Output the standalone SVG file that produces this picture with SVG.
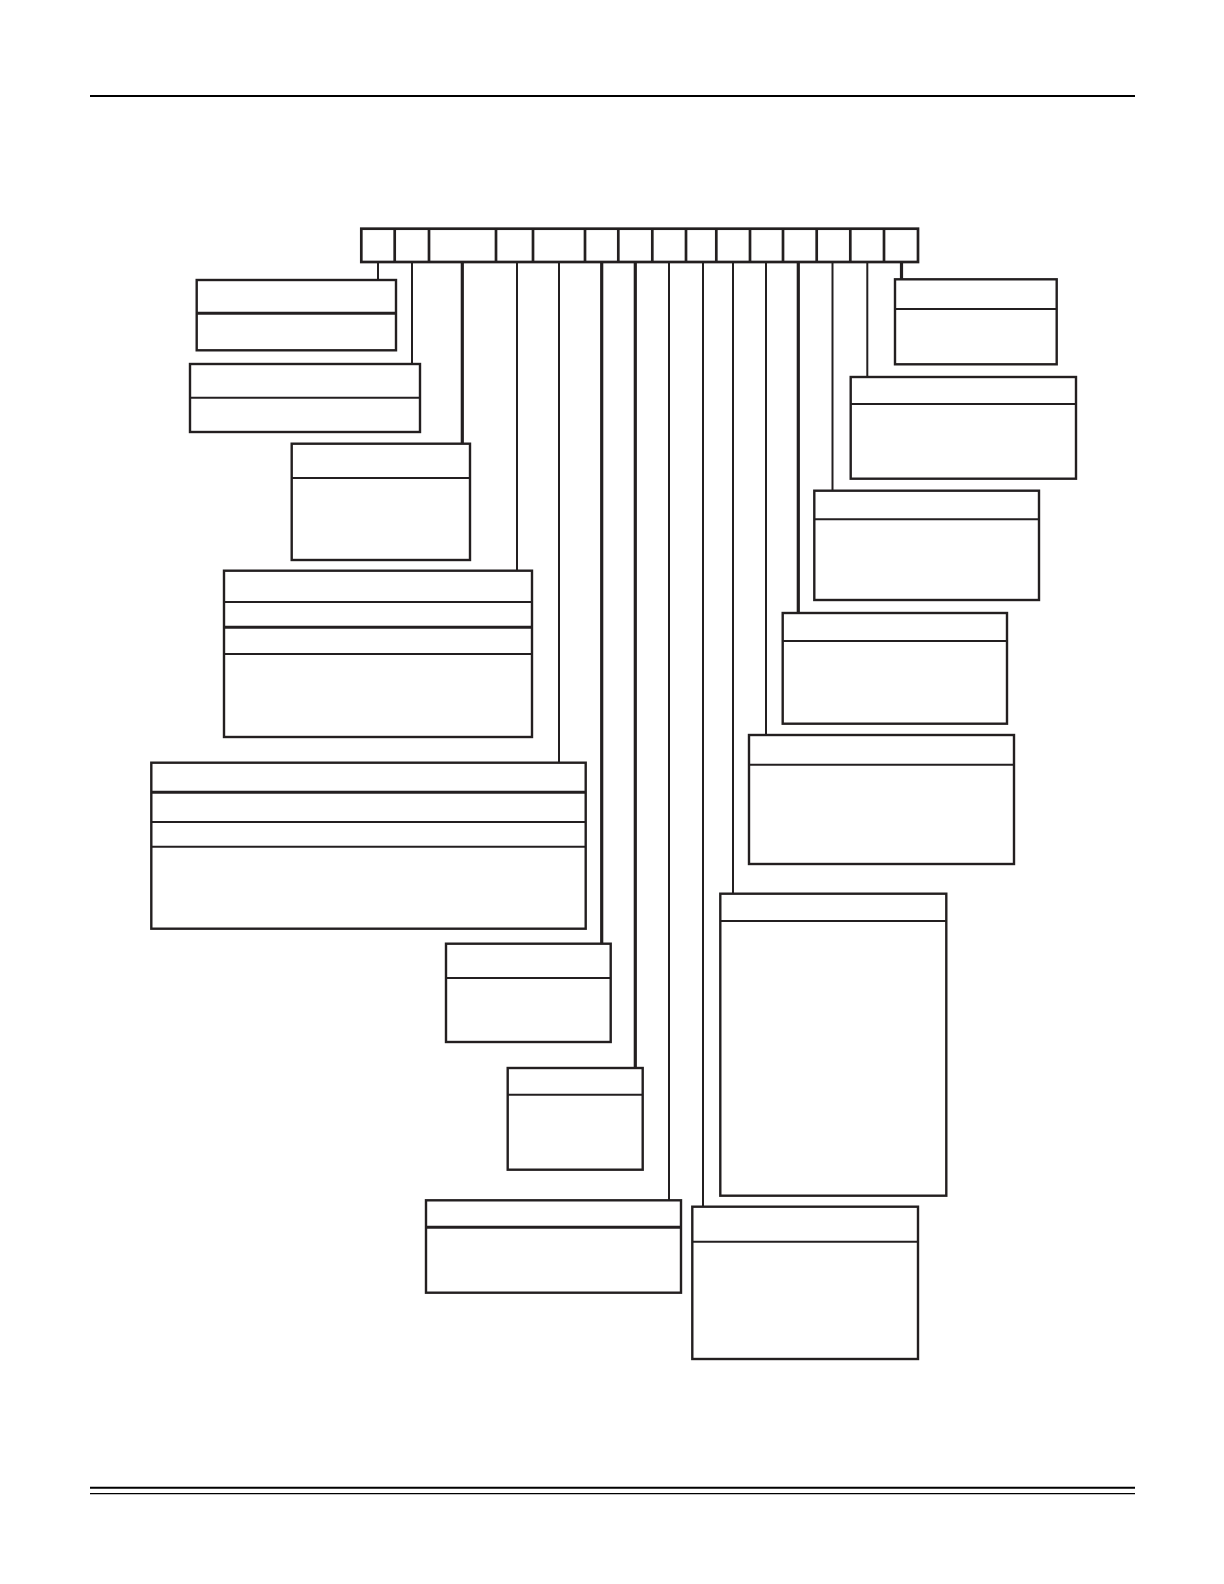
<svg xmlns="http://www.w3.org/2000/svg" width="1224" height="1584" viewBox="0 0 1224 1584">
<style>
.box{fill:#fff;stroke:#231f20;stroke-width:2.4}
.div{stroke:#231f20;stroke-width:2}
.divt{stroke:#231f20;stroke-width:3}
.c{stroke:#231f20;stroke-width:2;fill:none}
.ct{stroke:#231f20;stroke-width:3.2;fill:none}
.rule{stroke:#000;fill:none}
</style>
<rect width="1224" height="1584" fill="#fff"/>
<g id="page-rules">
<line class="rule" x1="90" y1="96" x2="1135" y2="96" stroke-width="2"/>
<line class="rule" x1="90" y1="1487.7" x2="1135" y2="1487.7" stroke-width="2"/>
<line class="rule" x1="90" y1="1493.7" x2="1135" y2="1493.7" stroke-width="1.3"/>
</g>
<g id="connectors">
<line class="c" x1="378" y1="262" x2="378" y2="280"/>
<line class="c" x1="412" y1="262" x2="412" y2="364"/>
<line class="ct" x1="462.3" y1="262" x2="462.3" y2="443.7"/>
<line class="c" x1="517" y1="262" x2="517" y2="570.7"/>
<line class="c" x1="559" y1="262" x2="559" y2="762.7"/>
<line class="ct" x1="601.7" y1="262" x2="601.7" y2="943.7"/>
<line class="ct" x1="635.3" y1="262" x2="635.3" y2="1068"/>
<line class="c" x1="669" y1="262" x2="669" y2="1200.3"/>
<line class="c" x1="703" y1="262" x2="703" y2="1206.7"/>
<line class="c" x1="733" y1="262" x2="733" y2="893.7"/>
<line class="c" x1="766" y1="262" x2="766" y2="735"/>
<line class="ct" x1="798.3" y1="262" x2="798.3" y2="613"/>
<line class="c" x1="832.5" y1="262" x2="832.5" y2="490.7"/>
<line class="c" x1="867.3" y1="262" x2="867.3" y2="377"/>
<line class="ct" x1="901.5" y1="262" x2="901.5" y2="279.3"/>
</g>
<g id="bar">
<rect x="361.3" y="228.7" width="556.7" height="33.3" fill="#fff" stroke="#231f20" stroke-width="2.7"/>
<path d="M394.7 228.7V262M429 228.7V262M496 228.7V262M533 228.7V262M585 228.7V262M618.3 228.7V262M652.3 228.7V262M686 228.7V262M716.3 228.7V262M750 228.7V262M783 228.7V262M816.7 228.7V262M850.3 228.7V262M884 228.7V262" stroke="#231f20" stroke-width="2.7" fill="none"/>
</g>
<g id="box-a"><rect class="box" x="196.7" y="280" width="199.3" height="70.3"/><line class="divt" x1="196.7" y1="313.3" x2="396" y2="313.3"/></g>
<g id="box-b"><rect class="box" x="190" y="364" width="230" height="68"/><line class="div" x1="190" y1="397.7" x2="420" y2="397.7"/></g>
<g id="box-c"><rect class="box" x="291.7" y="443.7" width="178.3" height="116.3"/><line class="div" x1="291.7" y1="478" x2="470" y2="478"/></g>
<g id="box-d"><rect class="box" x="224" y="570.7" width="308" height="166.3"/><line class="div" x1="224" y1="602" x2="532" y2="602"/><line class="divt" x1="224" y1="627.3" x2="532" y2="627.3"/><line class="div" x1="224" y1="654" x2="532" y2="654"/></g>
<g id="box-e"><rect class="box" x="151.3" y="762.7" width="434.4" height="166"/><line class="divt" x1="151.3" y1="792.3" x2="585.7" y2="792.3"/><line class="div" x1="151.3" y1="822" x2="585.7" y2="822"/><line class="div" x1="151.3" y1="846.7" x2="585.7" y2="846.7"/></g>
<g id="box-f"><rect class="box" x="446" y="943.7" width="164.7" height="98.3"/><line class="div" x1="446" y1="978" x2="610.7" y2="978"/></g>
<g id="box-g"><rect class="box" x="507.7" y="1068" width="135" height="101.7"/><line class="div" x1="507.7" y1="1094.7" x2="642.7" y2="1094.7"/></g>
<g id="box-h"><rect class="box" x="426" y="1200.3" width="255" height="92.4" stroke-width="2.8"/><line class="divt" x1="426" y1="1227.3" x2="681" y2="1227.3"/></g>
<g id="box-i"><rect class="box" x="692.3" y="1206.7" width="225.7" height="152.3" stroke-width="2.8"/><line class="div" x1="692.3" y1="1241.7" x2="918" y2="1241.7"/></g>
<g id="box-j"><rect class="box" x="720.3" y="893.7" width="226" height="302"/><line class="div" x1="720.3" y1="921" x2="946.3" y2="921"/></g>
<g id="box-k"><rect class="box" x="749" y="735" width="265" height="129"/><line class="div" x1="749" y1="764.7" x2="1014" y2="764.7"/></g>
<g id="box-l"><rect class="box" x="782.7" y="613" width="224.3" height="110.7"/><line class="div" x1="782.7" y1="641" x2="1007" y2="641"/></g>
<g id="box-r3"><rect class="box" x="814.3" y="490.7" width="224.7" height="109.3"/><line class="div" x1="814.3" y1="519.3" x2="1039" y2="519.3"/></g>
<g id="box-r2"><rect class="box" x="850.7" y="377" width="225.3" height="101.7" stroke-width="2.8"/><line class="div" x1="850.7" y1="404" x2="1076" y2="404"/></g>
<g id="box-r1"><rect class="box" x="895" y="279.3" width="161.7" height="85" stroke-width="2.8"/><line class="div" x1="895" y1="309" x2="1056.7" y2="309"/></g>
</svg>
